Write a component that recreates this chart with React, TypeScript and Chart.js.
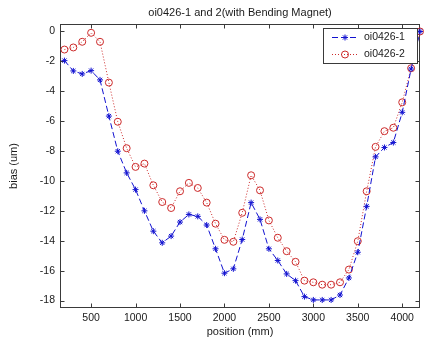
import { useEffect, useRef } from 'react';
import { Chart, registerables } from 'chart.js';

Chart.register(...registerables);

// Measurement positions along the magnet (mm)
const positions = [
  200, 300, 400, 500, 600, 700, 800, 900, 1000, 1100, 1200, 1300, 1400, 1500,
  1600, 1700, 1800, 1900, 2000, 2100, 2200, 2300, 2400, 2500, 2600, 2700, 2800,
  2900, 3000, 3100, 3200, 3300, 3400, 3500, 3600, 3700, 3800, 3900, 4000, 4100, 4200,
];

// Bias (um), run oi0426-1
const oi0426_1 = [
  -1.95, -2.64, -2.84, -2.62, -3.24, -5.66, -8.01, -9.46, -10.58, -12.0, -13.36,
  -14.14, -13.69, -12.75, -12.24, -12.37, -12.95, -14.54, -16.17, -15.88, -13.92,
  -11.45, -12.57, -14.54, -15.32, -16.22, -16.67, -17.74, -17.96, -17.96, -17.96,
  -17.63, -16.49, -14.77, -11.7, -8.39, -7.76, -7.43, -5.41, -2.51, 0,
];

// Bias (um), run oi0426-2
const oi0426_2 = [
  -1.21, -1.07, -0.69, -0.09, -0.69, -3.42, -6.04, -7.81, -9.06, -8.84, -10.29,
  -11.41, -11.81, -10.69, -10.13, -10.47, -11.45, -12.86, -13.94, -14.07, -12.13,
  -9.62, -10.63, -12.64, -13.8, -14.7, -15.41, -16.67, -16.78, -16.94, -16.94,
  -16.78, -15.93, -14.03, -10.69, -7.72, -6.67, -6.44, -4.74, -2.46, 0,
];

const xTicks = [500, 1000, 1500, 2000, 2500, 3000, 3500, 4000];
const yTicks = [0, -2, -4, -6, -8, -10, -12, -14, -16, -18];
const seriesNames = ['oi0426-1', 'oi0426-2'];
const chartTitle = 'oi0426-1 and 2(with Bending Magnet)';
const xLabel = 'position (mm)';
const yLabel = 'bias (um)';

const BLUE = '#1212d0';
const RED = '#cc2a2a';
const AXIS = '#3a3a3a';
const TEXT = '#1a1a1a';
const FONT = '"Liberation Sans", Arial, sans-serif';

function drawStar(ctx: CanvasRenderingContext2D, x: number, y: number, r: number) {
  ctx.beginPath();
  ctx.moveTo(x - r, y);
  ctx.lineTo(x + r, y);
  ctx.moveTo(x, y - r);
  ctx.lineTo(x, y + r);
  const d = r * Math.SQRT1_2;
  ctx.moveTo(x - d, y - d);
  ctx.lineTo(x + d, y + d);
  ctx.moveTo(x - d, y + d);
  ctx.lineTo(x + d, y - d);
  ctx.stroke();
}

// Box around the axes with inward tick marks on all four sides
const framePlugin = {
  id: 'matlabFrame',
  beforeDatasetsDraw(chart: any) {
    const { ctx, chartArea, scales } = chart;
    const L = Math.round(chartArea.left) + 0.5;
    const R = Math.round(chartArea.right) - 0.5;
    const T = Math.round(chartArea.top) + 0.5;
    const B = Math.round(chartArea.bottom) - 0.5;
    const len = 4;
    ctx.save();
    ctx.strokeStyle = AXIS;
    ctx.lineWidth = 1;
    ctx.setLineDash([]);
    ctx.strokeRect(L, T, R - L, B - T);
    ctx.beginPath();
    for (const v of xTicks) {
      const px = Math.round(scales.x.getPixelForValue(v)) + 0.5;
      ctx.moveTo(px, B);
      ctx.lineTo(px, B - len);
      ctx.moveTo(px, T);
      ctx.lineTo(px, T + len);
    }
    for (const v of yTicks) {
      const py = Math.round(scales.y.getPixelForValue(v)) + 0.5;
      ctx.moveTo(L, py);
      ctx.lineTo(L + len, py);
      ctx.moveTo(R, py);
      ctx.lineTo(R - len, py);
    }
    ctx.stroke();
    ctx.restore();
  },
  afterDraw(chart: any) {
    const { ctx, chartArea } = chart;
    ctx.save();
    // title
    ctx.fillStyle = TEXT;
    ctx.font = `11px ${FONT}`;
    ctx.textAlign = 'center';
    ctx.textBaseline = 'middle';
    ctx.fillText(chartTitle, (chartArea.left + chartArea.right) / 2, 12.5);

    // legend box in the upper right corner of the axes
    const bx = 323.5;
    const by = 28.5;
    const bw = 94;
    const bh = 35;
    ctx.fillStyle = '#fff';
    ctx.fillRect(bx, by, bw, bh);
    ctx.strokeStyle = AXIS;
    ctx.lineWidth = 1;
    ctx.strokeRect(bx, by, bw, bh);

    const rows = [
      { y: 37.5, color: BLUE, dash: [6, 3], marker: 'star' },
      { y: 54.5, color: RED, dash: [1, 2], marker: 'circle' },
    ];
    rows.forEach((row, i) => {
      ctx.strokeStyle = row.color;
      ctx.setLineDash(row.dash);
      ctx.beginPath();
      ctx.moveTo(332, row.y);
      ctx.lineTo(358, row.y);
      ctx.stroke();
      ctx.setLineDash([]);
      if (row.marker === 'star') {
        drawStar(ctx, 345, row.y, 3);
      } else {
        ctx.beginPath();
        ctx.arc(345, row.y, 3.5, 0, Math.PI * 2);
        ctx.stroke();
      }
      ctx.fillStyle = TEXT;
      ctx.font = `10.5px ${FONT}`;
      ctx.textAlign = 'left';
      ctx.textBaseline = 'middle';
      ctx.fillText(seriesNames[i], 364, row.y);
    });
    ctx.restore();
  },
};

export default function App() {
  const canvasRef = useRef<HTMLCanvasElement | null>(null);

  useEffect(() => {
    const canvas = canvasRef.current;
    if (!canvas) return;
    const toPoints = (vals: number[]) => positions.map((p, i) => ({ x: p, y: vals[i] }));

    const chart = new Chart(canvas, {
      type: 'line',
      data: {
        datasets: [
          {
            label: seriesNames[0],
            data: toPoints(oi0426_1),
            borderColor: BLUE,
            borderWidth: 1,
            borderDash: [6, 3],
            pointStyle: 'star',
            pointRadius: 3,
            pointBorderColor: BLUE,
            pointBackgroundColor: BLUE,
            pointBorderWidth: 1,
            backgroundColor: 'rgba(0,0,0,0)',
            fill: false,
            tension: 0,
            clip: false as any,
          },
          {
            label: seriesNames[1],
            data: toPoints(oi0426_2),
            borderColor: RED,
            borderWidth: 1,
            borderDash: [1, 2],
            pointStyle: 'circle',
            pointRadius: 3.5,
            pointBorderColor: RED,
            pointBackgroundColor: 'rgba(0,0,0,0)',
            pointBorderWidth: 1,
            backgroundColor: 'rgba(0,0,0,0)',
            fill: false,
            tension: 0,
            clip: false as any,
          },
        ],
      },
      options: {
        animation: false,
        responsive: false,
        devicePixelRatio: 1,
        layout: { padding: { top: 24, right: 7, left: 0, bottom: 0 } },
        plugins: {
          legend: { display: false },
          title: { display: false },
          tooltip: { enabled: false },
        },
        scales: {
          x: {
            type: 'linear',
            min: 150,
            max: 4200,
            afterBuildTicks: (scale: any) => {
              scale.ticks = xTicks.map((v) => ({ value: v }));
            },
            afterFit: (scale: any) => {
              scale.height = 32;
            },
            grid: { display: false, drawTicks: false },
            border: { display: false },
            ticks: {
              padding: 4,
              color: TEXT,
              font: { family: FONT, size: 10.5 },
              maxRotation: 0,
              autoSkip: false,
              callback: (v: any) => String(v),
            },
            title: {
              display: true,
              text: xLabel,
              color: TEXT,
              font: { family: FONT, size: 11 },
              padding: { top: 0, bottom: 1.5 },
            },
          },
          y: {
            type: 'linear',
            min: -18.5,
            max: 0.5,
            afterBuildTicks: (scale: any) => {
              scale.ticks = yTicks.map((v) => ({ value: v }));
            },
            afterFit: (scale: any) => {
              scale.width = 60;
            },
            grid: { display: false, drawTicks: false },
            border: { display: false },
            ticks: {
              padding: 5,
              color: TEXT,
              font: { family: FONT, size: 10.5 },
              autoSkip: false,
              callback: (v: any) => String(v),
            },
            title: {
              display: true,
              text: yLabel,
              color: TEXT,
              font: { family: FONT, size: 11 },
              padding: { top: 7, bottom: 0 },
            },
          },
        },
      },
      plugins: [framePlugin],
    });

    return () => chart.destroy();
  }, []);

  return (
    <div style={{ position: 'fixed', left: 0, top: 0, width: 427, height: 340, background: '#fff' }}>
      <canvas ref={canvasRef} width={427} height={340} style={{ display: 'block' }} />
    </div>
  );
}
